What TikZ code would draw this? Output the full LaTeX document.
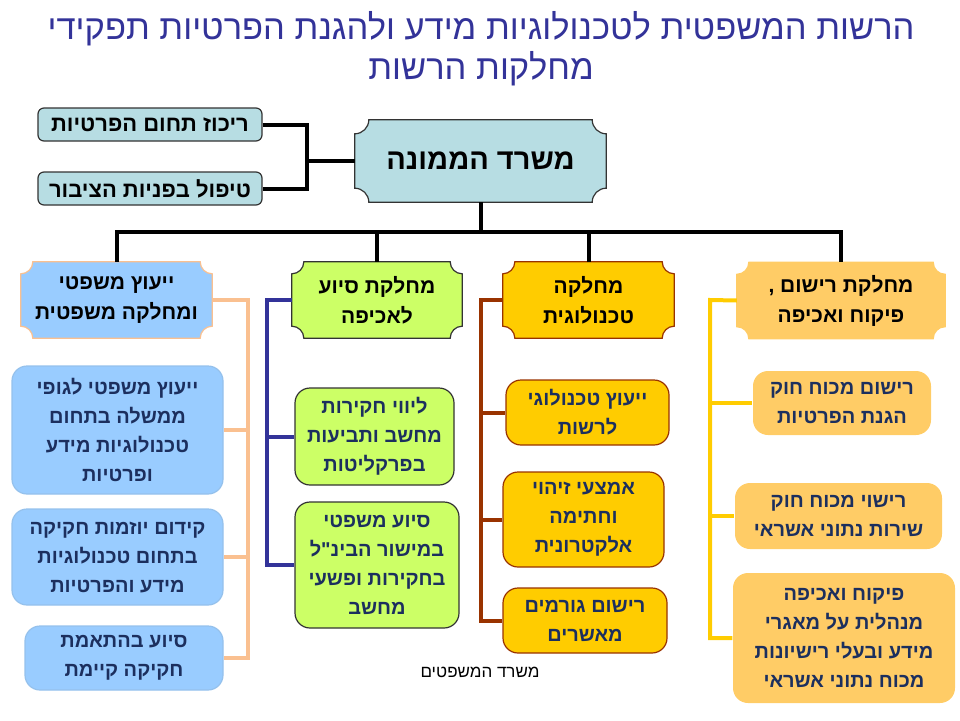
\documentclass[tikz,border=0pt]{standalone}
\usepackage{fontspec}
\setmainfont{Liberation Sans}
\newfontfamily\hebfont[Script=Hebrew]{Liberation Sans}
\TeXXeTstate=1
\usetikzlibrary{calc,backgrounds}
\newcommand{\heb}[1]{\beginR#1\endR}
\definecolor{titleblue}{HTML}{333399}
\definecolor{navy}{HTML}{1C2F5E}
\definecolor{teal}{HTML}{B7DDE3}
\definecolor{skyblue}{HTML}{99CCFF}
\definecolor{peach}{HTML}{FAC090}
\definecolor{lime}{HTML}{CCFF66}
\definecolor{gold}{HTML}{FFCC00}
\definecolor{apricot}{HTML}{FFCC66}
\definecolor{rust}{HTML}{993300}
\definecolor{darkline}{HTML}{333333}
\tikzset{
	conn/.style={line width=4pt, black},
	line1/.style={line width=4pt, peach},
	line2/.style={line width=4pt, titleblue},
	line3/.style={line width=4pt, rust},
	line4/.style={line width=4pt, gold},
	hebtext/.style={align=center, inner sep=0pt, font=\hebfont\bfseries\fontsize{20}{29}\selectfont},
	smallbox/.style={hebtext, draw=darkline, line width=1.2pt, fill=teal, rounded corners=6pt,
		minimum width=224pt, minimum height=33pt, font=\hebfont\bfseries\fontsize{22}{24}\selectfont},
	dept/.style={hebtext, minimum height=76pt, font=\hebfont\bfseries\fontsize{21}{30}\selectfont},
	sub/.style={hebtext, line width=1.2pt, rounded corners=15pt, text=navy},
}
% plaque outline: node, fill, border, corner radius
\newcommand{\plaque}[4]{%
	\begin{scope}[on background layer]
		\filldraw[fill=#2, draw=#3, line width=1.2pt]
		($(#1.north west)+(#4,0pt)$) -- ($(#1.north east)+(-#4,0pt)$)
		arc[start angle=180, end angle=270, radius=#4]
		-- ($(#1.south east)+(0pt,#4)$)
		arc[start angle=90, end angle=180, radius=#4]
		-- ($(#1.south west)+(#4,0pt)$)
		arc[start angle=0, end angle=90, radius=#4]
		-- ($(#1.north west)+(0pt,-#4)$)
		arc[start angle=270, end angle=360, radius=#4]
		-- cycle;
	\end{scope}}

\begin{document}
\begin{tikzpicture}[x=1pt, y=-1pt]
	\useasboundingbox (0,0) rectangle (960,720);

	\node[align=center, text=titleblue, font=\hebfont\fontsize{34.5}{40}\selectfont] (title) at (481,49)
		{\heb{הרשות המשפטית לטכנולוגיות מידע ולהגנת הפרטיות תפקידי}\\\heb{מחלקות הרשות}};

	% top of the chart
	\node[hebtext, minimum width=251pt, minimum height=82pt, font=\hebfont\bfseries\fontsize{29}{30}\selectfont] (head) at (480.5,161) {\heb{משרד הממונה}};
	\plaque{head}{teal}{darkline}{14pt}
	\node[smallbox] (priv) at (150,124.5) {\heb{ריכוז תחום הפרטיות}};
	\node[smallbox] (pub) at (150,188.5) {\heb{טיפול בפניות הציבור}};

	% departments
	\node[dept, minimum width=191pt] (d1) at (116.5,300) {\heb{ייעוץ משפטי}\\\heb{ומחלקה משפטית}};
	\node[dept, minimum width=170pt] (d2) at (377,300) {\heb{מחלקת סיוע}\\\heb{לאכיפה}};
	\node[dept, minimum width=171pt] (d3) at (588.5,300) {\heb{מחלקה}\\\heb{טכנולוגית}};
	\node[dept, minimum width=208pt] (d4) at (841,300.5) {\heb{מחלקת רישום ,}\\\heb{פיקוח ואכיפה}};
	\plaque{d1}{skyblue}{peach}{12pt}
	\plaque{d2}{lime}{darkline}{12pt}
	\plaque{d3}{gold}{rust}{12pt}
	\plaque{d4}{apricot}{apricot}{12pt}

	% units
	\node[sub, fill=skyblue, draw=skyblue!85!gray, minimum width=211pt, minimum height=128pt] (s11) at (117.5,430)
		{\heb{ייעוץ משפטי לגופי}\\\heb{ממשלה בתחום}\\\heb{טכנולוגיות מידע}\\\heb{ופרטיות}};
	\node[sub, fill=skyblue, draw=skyblue!85!gray, minimum width=211pt, minimum height=96pt] (s12) at (117.5,557)
		{\heb{קידום יוזמות חקיקה}\\\heb{בתחום טכנולוגיות}\\\heb{מידע והפרטיות}};
	\node[sub, fill=skyblue, draw=skyblue!85!gray, minimum width=198pt, minimum height=64pt] (s13) at (124,658)
		{\heb{סיוע בהתאמת}\\\heb{חקיקה קיימת}};

	\node[sub, fill=lime, draw=darkline, minimum width=159pt, minimum height=97pt] (s21) at (374.5,436.5)
		{\heb{ליווי חקירות}\\\heb{מחשב ותביעות}\\\heb{בפרקליטות}};
	\node[sub, fill=lime, draw=darkline, minimum width=164pt, minimum height=126pt] (s22) at (377,565)
		{\heb{סיוע משפטי}\\\heb{במישור הבינ"ל}\\\heb{בחקירות ופשעי}\\\heb{מחשב}};

	\node[sub, fill=gold, draw=rust, minimum width=163pt, minimum height=65pt] (s31) at (587.5,412.5)
		{\heb{ייעוץ טכנולוגי}\\\heb{לרשות}};
	\node[sub, fill=gold, draw=rust, minimum width=161pt, minimum height=95pt] (s32) at (583.5,519.5)
		{\heb{אמצעי זיהוי}\\\heb{וחתימה}\\\heb{אלקטרונית}};
	\node[sub, fill=gold, draw=rust, minimum width=164pt, minimum height=65pt] (s33) at (585,620.5)
		{\heb{רישום גורמים}\\\heb{מאשרים}};

	\node[sub, fill=apricot, minimum width=178pt, minimum height=64pt] (s41) at (842,403)
		{\heb{רישום מכוח חוק}\\\heb{הגנת הפרטיות}};
	\node[sub, fill=apricot, minimum width=207pt, minimum height=66pt] (s42) at (838.5,516)
		{\heb{רישוי מכוח חוק}\\\heb{שירות נתוני אשראי}};
	\node[sub, fill=apricot, minimum width=222pt, minimum height=130pt] (s43) at (844,638)
		{\heb{פיקוח ואכיפה}\\\heb{מנהלית על מאגרי}\\\heb{מידע ובעלי רישיונות}\\\heb{מכוח נתוני אשראי}};

	\node[font=\hebfont\fontsize{17}{18}\selectfont] (foot) at (480,672) {\heb{משרד המשפטים}};

	% connectors
	\coordinate (side) at (307,161);
	\draw[conn] (head.west) -- (side);
	\draw[conn] (priv.east) -| (side) |- (pub.east);
	\coordinate (bus) at (480.5,232);
	\draw[conn] (head.south) -- (bus);
	\foreach \d in {d1,d2,d3,d4}
		\draw[conn] (bus) -| (\d.north);

	\coordinate (bar1) at (248,300);
	\draw[line1] (d1.east) -- (bar1) |- (s13.east);
	\foreach \s in {s11,s12}
		\draw[line1] (bar1 |- \s.east) -- (\s.east);

	\coordinate (bar2) at (267,300);
	\draw[line2] (d2.west) -- (bar2) |- (s22.west);
	\draw[line2] (bar2 |- s21.west) -- (s21.west);

	\coordinate (bar3) at (481,300);
	\draw[line3] (d3.west) -- (bar3) |- (s33.west);
	\foreach \s in {s31,s32}
		\draw[line3] (bar3 |- \s.west) -- (\s.west);

	\coordinate (bar4) at (710,300);
	\draw[line4] (d4.west) -- (bar4) |- (s43.west);
	\foreach \s in {s41,s42}
		\draw[line4] (bar4 |- \s.west) -- (\s.west);
\end{tikzpicture}
\end{document}
